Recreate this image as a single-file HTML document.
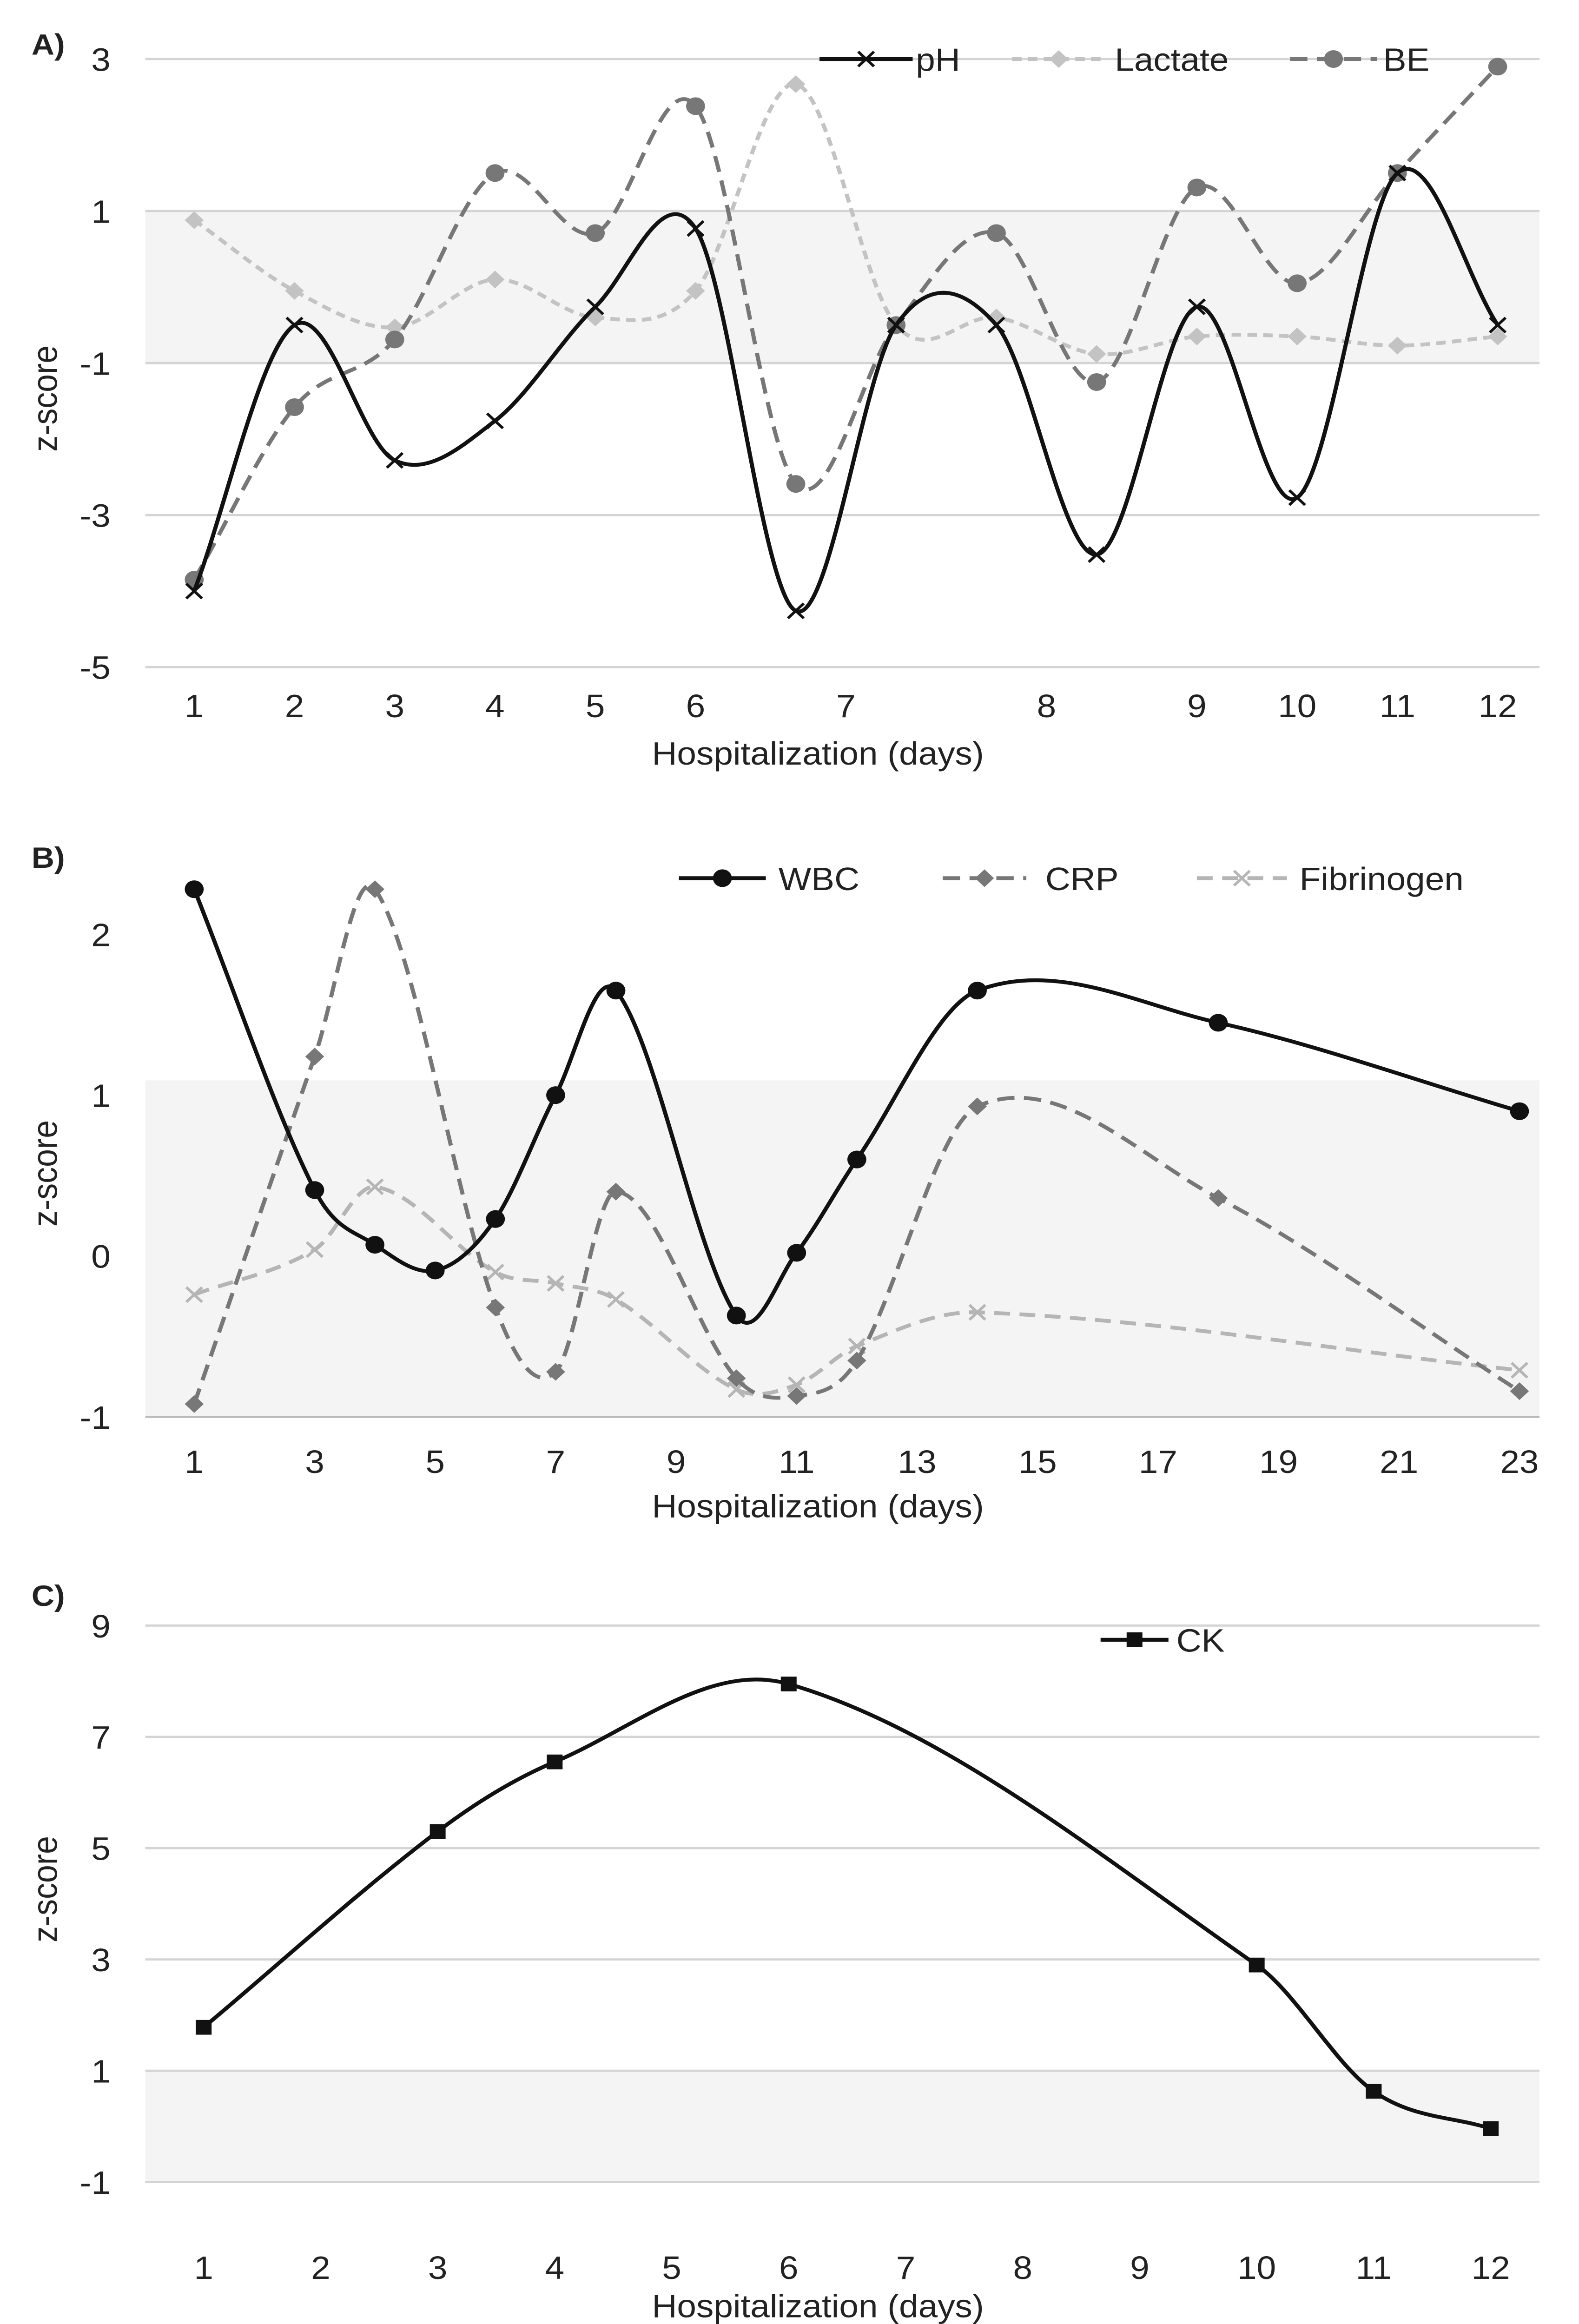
<!DOCTYPE html>
<html><head><meta charset="utf-8"><style>
html,body{margin:0;padding:0;background:#fff;width:100vw;height:100vh;overflow:hidden;}
svg{display:block;position:absolute;left:0;top:0;width:100vw;height:100vh;font-family:"Liberation Sans",Arial,sans-serif;}
</style></head><body>
<svg id="chart" xmlns="http://www.w3.org/2000/svg" viewBox="0 0 1000 1574.6" preserveAspectRatio="none"></svg>
<script>
// ---------- Panel A data ----------
const aTickLabels = ["1","2","3","4","5","6","7","8","9","10","11","12"];
const aTickPos = [0,1,2,3,4,5,6.5,8.5,10,11,12,13];
const aYTicks = [3,1,-1,-3,-5];
const phValues = [-4.0,-0.5,-2.28,-1.76,-0.26,0.77,-4.26,-0.5,-0.5,-3.52,-0.26,-2.77,1.5,-0.5];
const lactateValues = [0.88,-0.05,-0.53,0.1,-0.4,-0.05,2.67,-0.5,-0.4,-0.88,-0.65,-0.65,-0.77,-0.65];
const beValues = [-3.85,-1.58,-0.69,1.5,0.71,2.38,-2.59,-0.5,0.71,-1.25,1.31,0.05,1.5,2.9];
// ---------- Panel B data ----------
const bTickLabels = ["1","3","5","7","9","11","13","15","17","19","21","23"];
const bYTicks = [2,1,0,-1];
const wbcDays = [1,3,4,5,6,7,8,10,11,12,14,18,23];
const wbcValues = [2.28,0.41,0.07,-0.09,0.23,1.0,1.65,-0.37,0.02,0.6,1.65,1.45,0.9];
const crpDays = [1,3,4,6,7,8,10,11,12,14,18,23];
const crpValues = [-0.92,1.24,2.28,-0.32,-0.72,0.4,-0.76,-0.87,-0.65,0.93,0.36,-0.84];
const fibDays = [1,3,4,6,7,8,10,11,12,14,23];
const fibValues = [-0.24,0.04,0.43,-0.1,-0.17,-0.27,-0.83,-0.8,-0.56,-0.35,-0.71];
// ---------- Panel C data ----------
const cTickLabels = ["1","2","3","4","5","6","7","8","9","10","11","12"];
const cYTicks = [9,7,5,3,1,-1];
const ckDays = [1,3,4,6,10,11,12];
const ckValues = [1.78,5.3,6.55,7.95,2.9,0.63,-0.04];

const NS="http://www.w3.org/2000/svg";
const svg=document.getElementById('chart');
function mk(tag,attrs,parent){const e=document.createElementNS(NS,tag);for(const k in attrs)e.setAttribute(k,attrs[k]);(parent||svg).appendChild(e);return e;}
function txt(s,x,y,size,anchor,parent,extra){const t=mk('text',Object.assign({x:x,y:y,'font-size':size,'text-anchor':anchor||'middle',fill:'#222'},extra||{}),parent);t.textContent=s;return t;}
function smooth(pts){if(pts.length<2)return'';let d='M'+pts[0][0]+','+pts[0][1];
 for(let i=0;i<pts.length-1;i++){const p0=pts[i-1]||pts[i],p1=pts[i],p2=pts[i+1],p3=pts[i+2]||p2;
  const dx=(p2[0]-p1[0]);
  const t1=dx/Math.max(p2[0]-p0[0],1e-6), t2=dx/Math.max(p3[0]-p1[0],1e-6);
  const c1=[p1[0]+(p2[0]-p0[0])*t1/3,p1[1]+(p2[1]-p0[1])*t1/3],c2=[p2[0]-(p3[0]-p1[0])*t2/3,p2[1]-(p3[1]-p1[1])*t2/3];
  d+=' C'+c1[0]+','+c1[1]+' '+c2[0]+','+c2[1]+' '+p2[0]+','+p2[1];}return d;}
function marker(type,x,y,color,g){
 if(type==='x'){mk('path',{d:`M${x-5},${y-5}L${x+5},${y+5}M${x+5},${y-5}L${x-5},${y+5}`,stroke:color,'stroke-width':1.8,fill:'none'},g);}
 else if(type==='diamond'){mk('path',{d:`M${x},${y-6}L${x+6},${y}L${x},${y+6}L${x-6},${y}Z`,fill:color},g);}
 else if(type==='circle'){mk('circle',{cx:x,cy:y,r:6,fill:color},g);}
 else if(type==='square'){mk('rect',{x:x-5,y:y-5,width:10,height:10,fill:color},g);}}
function series(name,pts,color,dash,mtype,parent){
 const g=mk('g',{},parent);
 
 
 const p=mk('path',{d:smooth(pts),fill:'none',stroke:color,'stroke-width':2.6,'stroke-dasharray':dash||'none'},g);
 
 
 pts.forEach(q=>marker(mtype,q[0],q[1],color,g));}
function legendEntry(label,x1,x2,y,color,dash,mtype,tx,parent){
 const g=mk('g',{},parent);
 
 
 mk('line',{x1:x1,x2:x2,y1:y,y2:y,stroke:color,'stroke-width':2.6,'stroke-dasharray':dash||'none'},g);
 marker(mtype,(x1+x2)/2,y,color,g);
 txt(label,tx,y+8,22,'start',g);}
function panelFrame(letter,ly,ylabelY,xtitleY,parent){
 const l=txt(letter,20,ly,20,'start',parent,{'font-weight':'bold'});
 
 
 const yl=txt('z-score',0,0,22,'middle',parent,{transform:`translate(36,${ylabelY}) rotate(-90)`});
 
 
 const xt=txt('Hospitalization (days)',518,xtitleY,22,'middle',parent);
 
 }
const X0=92,X1=975;

// ===== Panel A =====
(function(){
 const g=mk('g',{});
 const y=v=>143-(v-1)*51.5; const x=i=>123+i*63.5;
 mk('rect',{x:X0,y:y(1),width:X1-X0,height:y(-1)-y(1),fill:'#f4f4f4'},g);
 aYTicks.forEach(v=>{mk('line',{x1:X0,x2:X1,y1:y(v),y2:y(v),stroke:'#d4d4d4','stroke-width':1.5},g);
  const t=txt(String(v),70,y(v)+8,22,'end',g);});
 aTickLabels.forEach((s,i)=>{const t=txt(s,x(aTickPos[i]),486,22,'middle',g);});
 series('lactate',lactateValues.map((v,i)=>[x(i),y(v)]),'#c3c3c3','6,4','diamond',g);
 series('be',beValues.map((v,i)=>[x(i),y(v)]),'#777777','11,6','circle',g);
 series('ph',phValues.map((v,i)=>[x(i),y(v)]),'#111111',null,'x',g);
 legendEntry('pH',519,578,40,'#111111',null,'x',580,g);
 legendEntry('Lactate',641,700,40,'#c3c3c3','6,4','diamond',706,g);
 legendEntry('BE',817,872,40,'#777777','11,6','circle',876,g);
 panelFrame('A)',37,270,518,g);
})();

// ===== Panel B =====
(function(){
 const g=mk('g',{});
 const y=v=>851-v*109; const x=d=>123+(d-1)*38.15;
 mk('rect',{x:X0,y:732,width:X1-X0,height:y(-1)-732,fill:'#f4f4f4'},g);
 mk('line',{x1:X0,x2:X1,y1:y(-1),y2:y(-1),stroke:'#bbbbbb','stroke-width':1.5},g);
 bYTicks.forEach(v=>{const t=txt(String(v),70,y(v)+8,22,'end',g);});
 bTickLabels.forEach(s=>{const t=txt(s,x(+s),998,22,'middle',g);});
 series('fibrinogen',fibDays.map((d,i)=>[x(d),y(fibValues[i])]),'#b5b5b5','10,6','x',g);
 series('crp',crpDays.map((d,i)=>[x(d),y(crpValues[i])]),'#777777','11,6','diamond',g);
 series('wbc',wbcDays.map((d,i)=>[x(d),y(wbcValues[i])]),'#111111',null,'circle',g);
 legendEntry('WBC',430,485,595,'#111111',null,'circle',493,g);
 legendEntry('CRP',597,650,595,'#777777','11,6','diamond',662,g);
 legendEntry('Fibrinogen',758,815,595,'#b5b5b5','10,6','x',823,g);
 panelFrame('B)',588,795,1028,g);
})();

// ===== Panel C =====
(function(){
 const g=mk('g',{});
 const y=v=>1403-(v-1)*37.7; const x=d=>129+(d-1)*74.1;
 mk('rect',{x:X0,y:y(1),width:X1-X0,height:y(-1)-y(1),fill:'#f4f4f4'},g);
 cYTicks.forEach(v=>{mk('line',{x1:X0,x2:X1,y1:y(v),y2:y(v),stroke:'#d4d4d4','stroke-width':1.5},g);
  const t=txt(String(v),70,y(v)+8,22,'end',g);});
 cTickLabels.forEach(s=>{const t=txt(s,x(+s),1544,22,'middle',g);});
 series('ck',ckDays.map((d,i)=>[x(d),y(ckValues[i])]),'#111111',null,'square',g);
 legendEntry('CK',697,740,1111,'#111111',null,'square',745,g);
 panelFrame('C)',1088,1280,1570,g);
})();
</script>
</body></html>
